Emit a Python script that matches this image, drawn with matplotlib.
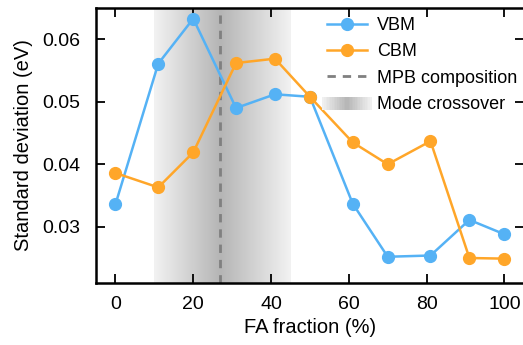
import numpy as np
import matplotlib
matplotlib.use('Agg')
import matplotlib.pyplot as plt
from matplotlib.legend_handler import HandlerBase
from matplotlib.patches import Rectangle
from matplotlib.lines import Line2D

plt.rcParams['font.family'] = ['Liberation Sans', 'DejaVu Sans']

# data
fa = [0, 11, 20, 31, 41, 50, 61, 70, 81, 91, 100]
vbm = [0.0336, 0.0561, 0.0633, 0.0490, 0.0512, 0.0508, 0.0337, 0.0252, 0.0254, 0.0311, 0.0288]
cbm = [0.0386, 0.0363, 0.0419, 0.0562, 0.0569, 0.0508, 0.0435, 0.0400, 0.0437, 0.0250, 0.0249]
mpb = 27
crossover = (10, 45)
xticks = [0, 20, 40, 60, 80, 100]
yticks = [0.03, 0.04, 0.05, 0.06]

blue = '#55b2f5'
orange = '#ffa629'


def shade(t):
    # gray level for the crossover gradient, t in [0, 1] with peak at 0.5
    return 0.95 - 0.24 * (1 - abs(2 * t - 1))


class GradientHandler(HandlerBase):
    def create_artists(self, legend, orig, xd, yd, w, h, fs, trans):
        n = 30
        out = []
        x0 = xd - 0.12 * w
        ww = w * 1.24
        for i in range(n):
            g = shade((i + 0.5) / n)
            r = Rectangle((x0 + ww * i / n, yd - 0.05 * h), ww / n * 1.05, h * 1.0,
                          facecolor=(g, g, g), edgecolor='none', transform=trans)
            out.append(r)
        return out


fig = plt.figure(figsize=(5.23, 3.45), dpi=100)
ax = fig.add_axes([0.1836, 0.1797, 0.818, 0.797])

ylo, yhi = 0.021, 0.065
xs = np.linspace(crossover[0], crossover[1], 300)
tt = np.where(xs < mpb, (xs - crossover[0]) / (mpb - crossover[0]) * 0.5,
              0.5 + (xs - mpb) / (crossover[1] - mpb) * 0.5)
g = shade(tt)
img = np.dstack([g, g, g]).repeat(2, axis=0)
ax.imshow(img, extent=[crossover[0], crossover[1], ylo, yhi], aspect='auto',
          interpolation='bilinear', zorder=0)

ax.axvline(mpb, color='#808080', ls='--', lw=2, dashes=(3, 2.5), zorder=1)

ax.plot(fa, vbm, '-o', color=blue, lw=1.8, ms=8.5, zorder=3, label='VBM')
ax.plot(fa, cbm, '-o', color=orange, lw=1.8, ms=8.5, zorder=3, label='CBM')

ax.set_xlim(-5, 105)
ax.set_ylim(ylo, yhi)
ax.set_xticks(xticks)
ax.set_yticks(yticks)
ax.set_yticklabels(['%.2f' % v for v in yticks])
ax.tick_params(direction='in', top=True, right=True, length=6.5, width=1.3,
               labelsize=14, pad=9)
ax.tick_params(axis='y', pad=11)
for s in ax.spines.values():
    s.set_linewidth(1.8)

ax.set_xlabel('FA fraction (%)', fontsize=14.5, labelpad=4)
ax.set_ylabel('Standard deviation (eV)', fontsize=14.5, labelpad=7)

handles = [
    Line2D([], [], color=blue, marker='o', lw=1.8, ms=8.5),
    Line2D([], [], color=orange, marker='o', lw=1.8, ms=8.5),
    Line2D([], [], color='#808080', ls='--', lw=2, dashes=(3, 2.5)),
    Rectangle((0, 0), 1, 1),
]
labels = ['VBM', 'CBM', 'MPB composition', 'Mode crossover']
ax.legend(handles, labels, loc='upper left', bbox_to_anchor=(327 / 523, 1 - 17 / 345),
          bbox_transform=fig.transFigure,
          frameon=False, fontsize=13, handlelength=2.2, handletextpad=0.55,
          labelspacing=0.52, borderaxespad=0.0, borderpad=0.0,
          handler_map={Rectangle: GradientHandler()})

fig.savefig('out.png', dpi=100)
